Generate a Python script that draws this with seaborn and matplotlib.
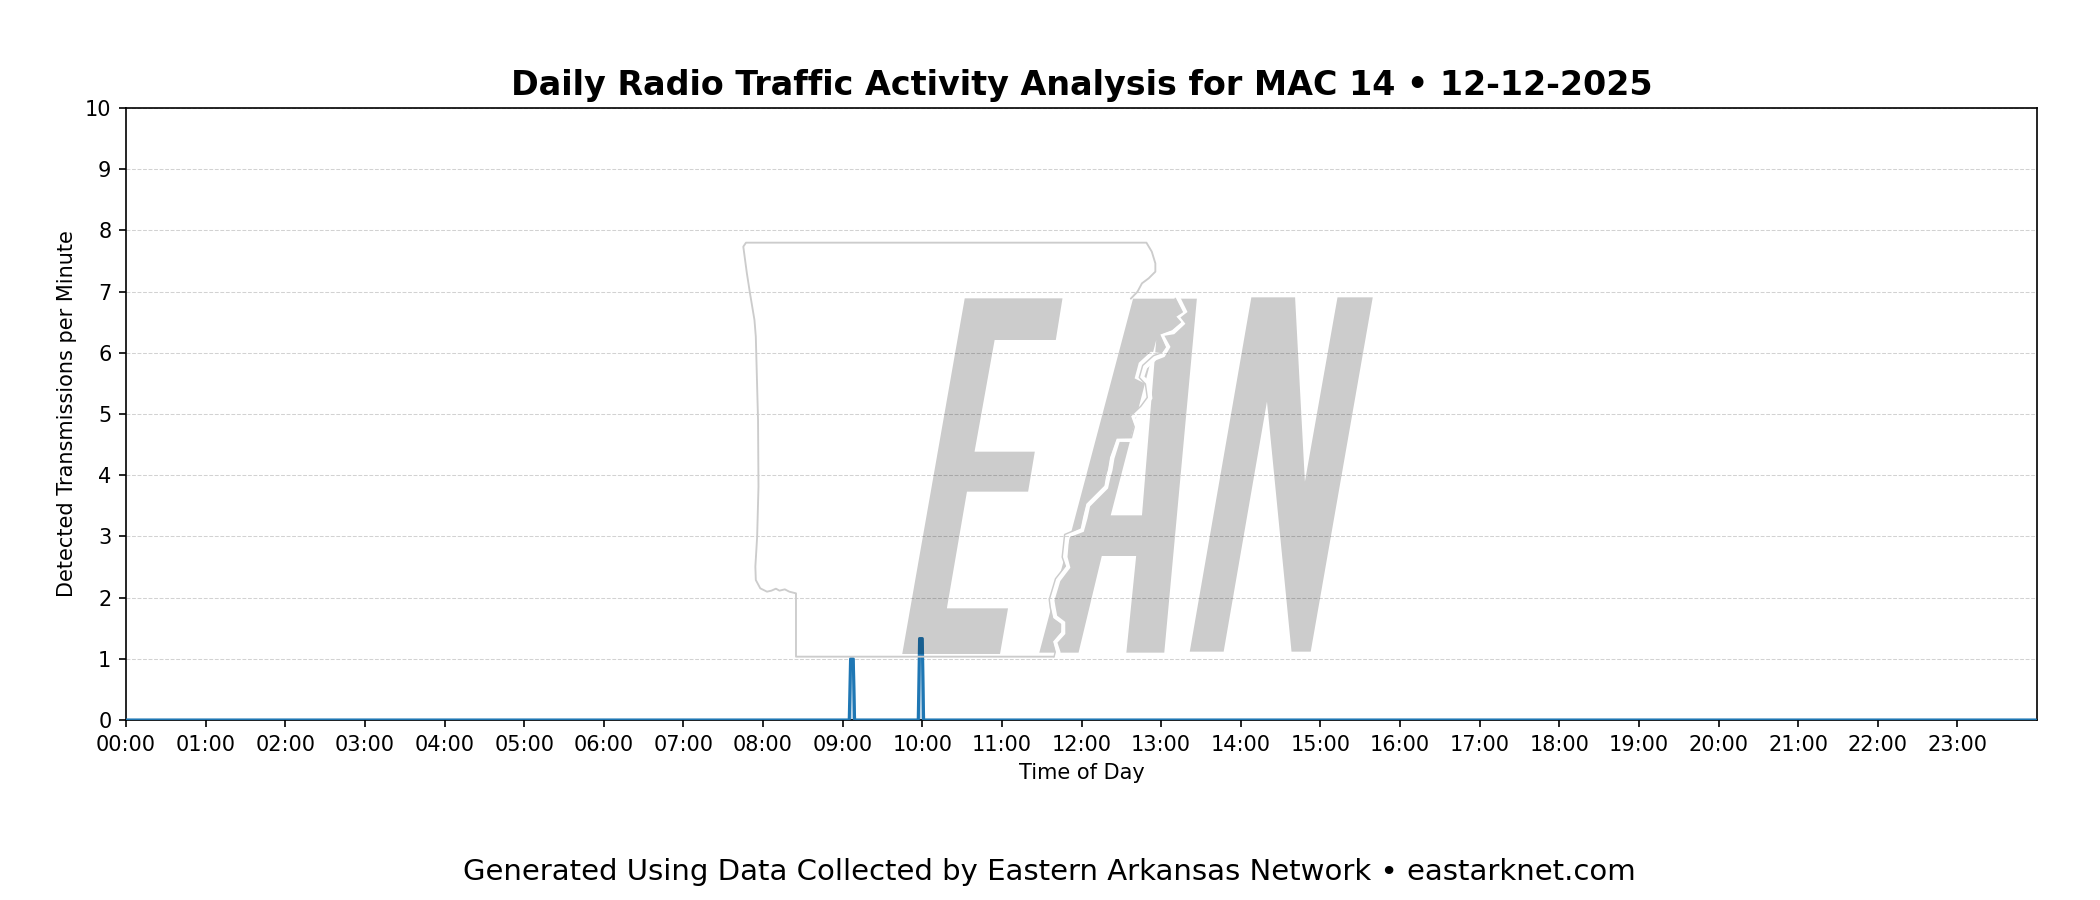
import matplotlib
matplotlib.use("Agg")
from matplotlib import pyplot as plt
from matplotlib.patches import Polygon, PathPatch
from matplotlib.path import Path
import numpy as np
import pandas as pd
import seaborn as sns

# minutes since midnight and detections per minute
minutes = [0, 545, 546, 547, 548, 549, 597, 598, 599, 600, 601, 1439]
detections = [0, 0, 1.0, 1.0, 1.0, 0, 0, 1.33, 1.33, 1.33, 0, 0]
hour_labels = ["%02d:00" % h for h in range(24)]

title = "Daily Radio Traffic Activity Analysis for MAC 14 \u2022 12-12-2025"
footer = "Generated Using Data Collected by Eastern Arkansas Network \u2022 eastarknet.com"

# watermark outlines, traced in image pixels (2100x900)
def z2(pts):
    return [(700 + x / 2.24, 220 + y / 3) for x, y in pts]

letter_e = z2([(593, 235), (812, 235), (797, 360), (660, 360), (615, 695), (750, 695), (735, 815),
               (598, 815), (553, 1165), (690, 1165), (672, 1302), (453, 1302)])
letter_a = z2([(970, 236), (1113, 236), (1040, 1298), (955, 1298), (977, 1008), (900, 1008), (848, 1298), (760, 1298)])
letter_a_hole = z2([(1022, 360), (920, 886), (990, 886)])
letter_n = z2([(1235, 232), (1333, 232), (1355, 785), (1428, 232), (1507, 232), (1368, 1295), (1325, 1295),
               (1270, 545), (1173, 1295), (1097, 1295)])
river = [(1178, 250), (1178, 298), (1185, 312), (1178, 317), (1183, 323), (1173, 332), (1162, 335), (1168, 347), (1163, 355),
         (1155, 358), (1145, 367), (1142, 377), (1148, 383), (1150, 398), (1143, 408), (1133, 417), (1137, 427),
         (1133, 440), (1118, 440), (1112, 458), (1110, 470), (1108, 477), (1106, 487), (1088, 505), (1085, 518),
         (1082, 530), (1067, 536), (1065, 557), (1068, 567), (1058, 580), (1052, 600), (1053, 607), (1055, 617),
         (1063, 623), (1063, 633), (1055, 642), (1058, 652), (1058, 700)]
# river widens into a lake here, extra width on the west bank
lake_points = [(1155, 358), (1145, 367), (1142, 377)]
state_west = z2([(792, 1310), (215, 1310), (215, 1120), (200, 1115), (190, 1108), (178, 1112), (170, 1106), (160, 1112),
                 (150, 1115), (135, 1105), (125, 1080), (124, 1040), (128, 950), (131, 800), (130, 600), (127, 450),
                 (125, 350), (122, 300), (112, 220), (105, 160), (97, 80), (103, 68), (1000, 68), (1012, 95),
                 (1020, 130), (1020, 155), (1005, 175), (990, 190), (980, 215), (965, 236)])

sns.set_style("ticks")
plt.rcParams["font.family"] = ["DejaVu Sans"]

df = pd.DataFrame({"minute": minutes, "detections": detections})

fig, ax = plt.subplots(figsize=(14, 6), dpi=150)
fig.subplots_adjust(left=126 / 2100, right=2037 / 2100, top=1 - 108 / 900, bottom=1 - 720 / 900)

sns.lineplot(data=df, x="minute", y="detections", ax=ax, color="tab:blue", linewidth=1.5, errorbar=None, zorder=3)
ax.fill_between(minutes, detections, color="tab:blue", alpha=0.3, zorder=2)

ax.set_xlim(0, 1440)
ax.set_ylim(0, 10)
ax.set_xticks(range(0, 1440, 60))
ax.set_xticklabels(hour_labels)
ax.set_yticks(range(11))
ax.tick_params(axis="both", labelsize=10, color="black", labelcolor="black", length=3.5, width=0.8)
ax.grid(axis="y", linestyle="--", color="gray", alpha=0.35, linewidth=0.5)
for s in ax.spines.values():
    s.set_visible(True)
    s.set_color("black")
    s.set_linewidth(0.8)
ax.set_xlabel("Time of Day", fontsize=10, color="black")
ax.set_ylabel("Detected Transmissions per Minute", fontsize=10, color="black")
ax.set_title(title, fontsize=16, fontweight="bold", color="black", pad=6)
fig.text(1049 / 2100, 1 - 872 / 900, footer, ha="center", va="center", fontsize=14, color="black")

def fp(pts):
    return [(x / 2100, 1 - y / 900) for x, y in pts]

def closed(pts):
    p = fp(pts)
    return p + [p[0]]

def offset_river(west, lake=0.0):
    # shift each river point sideways, west > 0 moves to the west bank
    pts = np.array(river, dtype=float)
    tan = np.gradient(pts, axis=0)
    tan /= np.linalg.norm(tan, axis=1, keepdims=True)
    normal = np.column_stack([-tan[:, 1], tan[:, 0]])
    dist = np.array([west + lake if tuple(p) in lake_points else west for p in river])
    return [tuple(p) for p in pts + normal * dist[:, None]]

shade = dict(facecolor="black", edgecolor="none", alpha=0.2, transform=fig.transFigure, zorder=10)
fig.add_artist(Polygon(fp(letter_e), **shade))
fig.add_artist(Polygon(fp(letter_n), **shade))

# the A is split by the river, so clip it to either bank
outer = closed(letter_a)
hole = closed(letter_a_hole)
a_path = Path(outer + hole, [Path.MOVETO] + [Path.LINETO] * (len(outer) - 1) + [Path.MOVETO] + [Path.LINETO] * (len(hole) - 1))
west_bank = [(900, 250)] + offset_river(2.5, lake=5) + [(900, 700)]
east_bank = [(1300, 250)] + offset_river(-2.5) + [(1300, 700)]
for bank in (west_bank, east_bank):
    piece = PathPatch(a_path, **shade)
    fig.add_artist(piece)
    piece.set_clip_path(Polygon(fp(bank), transform=fig.transFigure))

# state border, the east side runs just west of the river
east_line = offset_river(2.8)[1:-1]
fig.add_artist(plt.Line2D(*zip(*fp(state_west)), transform=fig.transFigure, color="#cccccc", linewidth=0.9, zorder=11))
fig.add_artist(plt.Line2D(*zip(*fp(east_line + [(1054, 657)])), transform=fig.transFigure, color="#cccccc", linewidth=0.7, zorder=11))

fig.savefig("out.png", dpi=150)
